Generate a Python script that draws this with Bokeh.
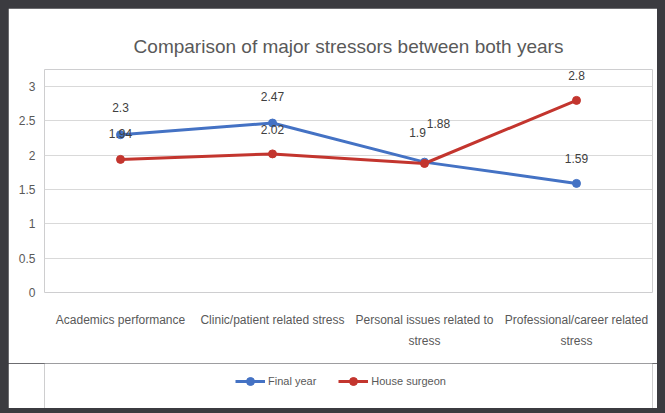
from bokeh.plotting import figure
from bokeh.models import (FactorRange, Range1d, ColumnDataSource, LabelSet, Legend,
                          LegendItem, FixedTicker, CategoricalAxis, CustomJSTickFormatter)
from bokeh.layouts import column
from bokeh.core.properties import value
from bokeh.embed import file_html
from bokeh.resources import INLINE

# ---- data ----
categories = ["Academics performance", "Clinic/patient related stress",
              "Personal issues related to stress", "Professional/career related stress"]
category_line1 = ["Academics performance", "Clinic/patient related stress",
                  "Personal issues related to", "Professional/career related"]
category_line2 = ["", "", "stress", "stress"]
final_year = [2.3, 2.47, 1.9, 1.59]
house_surgeon = [1.94, 2.02, 1.88, 2.8]
series_names = ["Final year", "House surgeon"]
y_ticks = [0, 0.5, 1, 1.5, 2, 2.5, 3]
title_text = "Comparison of major stressors between both years"

# ---- styles ----
FONT = "Liberation Sans"
BLUE = "#4472C4"
RED = "#C3352E"
GREY = "#595959"
DARK = "#3b3b40"
blue_dx = [0, 0, -7, 0]
blue_dy = [27, 27, 30, 25]
red_dx = [0, 0, 14, 0]
red_dy = [26, 24, 40, 25]

p = figure(width=649, height=355, x_range=FactorRange(*categories, range_padding=0),
           y_range=Range1d(0, 3.25), output_backend="svg", toolbar_location=None,
           min_border_left=36, min_border_right=5, min_border_top=61, min_border_bottom=71,
           background_fill_color="white", border_fill_color="white")
p.outline_line_color = None

p.title.text = title_text
p.title.align = "center"
p.title.text_font = FONT
p.title.text_font_size = "19px"
p.title.text_font_style = "normal"
p.title.text_color = GREY
p.title.standoff = 26

p.yaxis.ticker = FixedTicker(ticks=y_ticks)
p.yaxis.formatter = CustomJSTickFormatter(code="return String(tick)")
p.yaxis.axis_line_color = None
p.yaxis.major_tick_line_color = None
p.yaxis.minor_tick_line_color = None
p.yaxis.major_tick_out = 0
p.yaxis.major_label_standoff = 9
p.yaxis.major_label_text_font = FONT
p.yaxis.major_label_text_font_size = "12px"
p.yaxis.major_label_text_color = GREY

ax2 = CategoricalAxis()
p.add_layout(ax2, "below")
for ax, lines, standoff in ((p.xaxis[0], category_line1, 20), (ax2, category_line2, 4)):
    ax.formatter = CustomJSTickFormatter(args=dict(cats=categories, lines=lines),
                                         code="const s = lines[cats.indexOf(tick)]; return s ? s : ' ';")
    ax.axis_line_color = None
    ax.major_tick_line_color = None
    ax.major_tick_out = 0
    ax.major_tick_in = 0
    ax.major_label_standoff = standoff
    ax.major_label_text_font = FONT
    ax.major_label_text_font_size = "12px"
    ax.major_label_text_color = GREY

p.xgrid.grid_line_color = None
p.ygrid.grid_line_color = "#D9D9D9"
p.ygrid.grid_line_width = 1
p.ygrid.ticker = FixedTicker(ticks=y_ticks)

src_b = ColumnDataSource(dict(x=categories, y=final_year, t=[str(v) for v in final_year],
                              dx=blue_dx, dy=blue_dy))
src_r = ColumnDataSource(dict(x=categories, y=house_surgeon, t=[str(v) for v in house_surgeon],
                              dx=red_dx, dy=red_dy))

p.line("x", "y", source=src_b, color=BLUE, line_width=3)
p.scatter("x", "y", source=src_b, size=8, color=BLUE)
p.line("x", "y", source=src_r, color=RED, line_width=3)
p.scatter("x", "y", source=src_r, size=8, color=RED)

for src in (src_b, src_r):
    p.add_layout(LabelSet(x="x", y="y", text="t", source=src, x_offset="dx", y_offset="dy",
                          text_align="center", text_baseline="middle", text_font=value(FONT),
                          text_font_size="12px", text_color="#404040"))

# ---- legend strip (separate small figure below the chart; its series lie out of view) ----
pl = figure(width=649, height=45, output_backend="svg", toolbar_location=None,
            x_range=FactorRange(*categories, range_padding=0), y_range=Range1d(10, 11),
            x_axis_type=None, y_axis_type=None, min_border=0,
            background_fill_color="white", border_fill_color="white")
pl.outline_line_color = None
pl.xgrid.grid_line_color = None
pl.ygrid.grid_line_color = None
items = []
for name, col, src in zip(series_names, [BLUE, RED], [src_b, src_r]):
    ln = pl.line("x", "y", source=src, color=col, line_width=3)
    mk = pl.scatter("x", "y", source=src, size=8, color=col)
    items.append(LegendItem(label=name, renderers=[ln, mk]))
legend = Legend(items=items, orientation="horizontal", location=(191, 17),
                border_line_color=None, background_fill_alpha=0,
                label_text_font=FONT, label_text_font_size="11px", label_text_color=GREY,
                glyph_width=30, spacing=22, label_standoff=3, padding=0, margin=0)
pl.add_layout(legend)

layout = column(p, pl, styles={"background-color": DARK, "padding": "8px 8px 5px 8px"})

open("out.html", "w").write(file_html(layout, INLINE))
